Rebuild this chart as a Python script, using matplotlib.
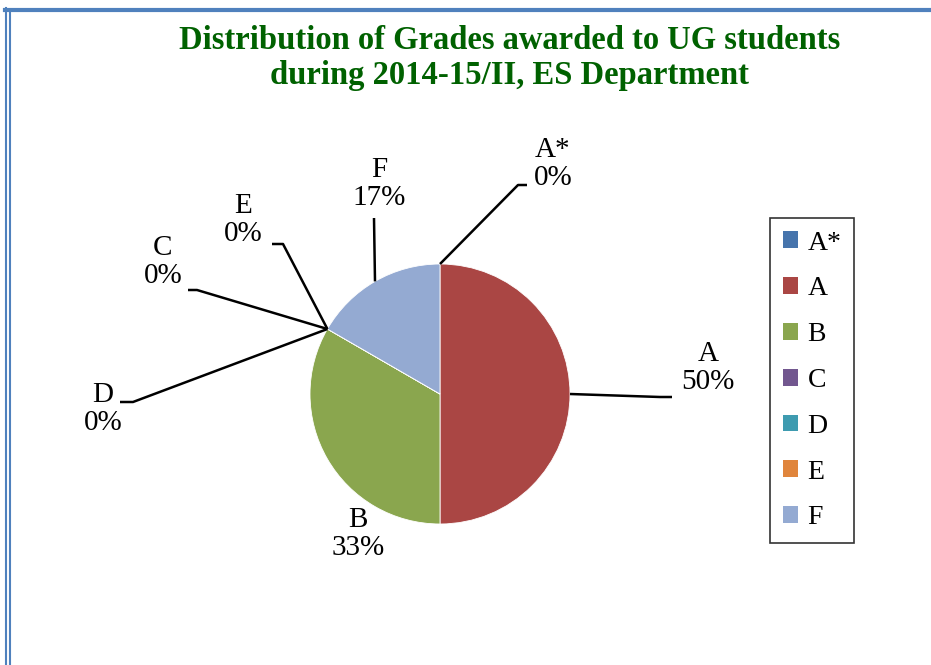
import matplotlib.pyplot as plt
from matplotlib.lines import Line2D
import numpy as np

# grades data
grades = ['A*', 'A', 'B', 'C', 'D', 'E', 'F']
counts = [0, 3, 2, 0, 0, 0, 1]
colors = ['#4674AC', '#AA4644', '#8AA64E', '#72578F', '#3E9BB0', '#E0853C', '#94AAD2']

W, H = 931, 665
plt.rcParams['font.family'] = ['Liberation Serif', 'DejaVu Serif']

fig = plt.figure(figsize=(W / 100, H / 100), dpi=100)
ax = fig.add_axes([0, 0, 1, 1])

cx, cy, r = 440, H - 394, 130
wedges, _ = ax.pie(counts, colors=colors, startangle=90, counterclock=False,
                   center=(cx, cy), radius=r,
                   wedgeprops=dict(edgecolor='white', linewidth=0.6))
ax.set_xlim(0, W)
ax.set_ylim(0, H)
ax.set_aspect('equal')
ax.axis('off')

total = sum(counts)
pct = [round(100 * c / total) for c in counts]

# label text centre, elbow point, elbow end (pixels, y from top); None = no leader
label_pos = {
    'A*': ((553, 164), (518, 185), (527, 185)),
    'A': ((708, 368), (660, 397), (672, 397)),
    'B': ((358, 534), None, None),
    'C': ((163, 262), (197, 290), (188, 290)),
    'D': ((103, 409), (133, 402), (120, 402)),
    'E': ((243, 220), (283, 244), (272, 244)),
    'F': ((379, 184), (374, 218), (374, 218)),
}

for g, w, p in zip(grades, wedges, pct):
    (tx, ty), elbow, end = label_pos[g]
    ax.text(tx, H - ty, f'{g}\n{p}%', ha='center', va='center', fontsize=21,
            linespacing=1.1, color='black')
    if elbow is None:
        continue
    ang = np.deg2rad((w.theta1 + w.theta2) / 2)
    x0, y0 = cx + r * np.cos(ang), cy + r * np.sin(ang)
    ax.plot([x0, elbow[0], end[0]], [y0, H - elbow[1], H - end[1]],
            color='black', lw=1.8, solid_capstyle='butt')

fig.text(510 / W, 1 - 58 / H,
         'Distribution of Grades awarded to UG students\nduring 2014-15/II, ES Department',
         ha='center', va='center', fontsize=23.5, fontweight='bold', color='#006100',
         linespacing=1.15)

leg = fig.legend(wedges, grades, loc='upper left',
                 bbox_to_anchor=(770 / W, 1 - 218 / H), fontsize=20,
                 frameon=True, fancybox=False, edgecolor='black',
                 handlelength=0.55, handleheight=0.55, handletextpad=0.35,
                 labelspacing=0.75, borderpad=0.45, borderaxespad=0)
leg.get_frame().set_linewidth(1.2)
for h in leg.legend_handles:
    h.set_edgecolor('none')

# page frame lines
blue = '#4F81BD'
fig.add_artist(Line2D([5 / W, 1], [1 - 10 / H, 1 - 10 / H], color=blue, lw=3,
                      transform=fig.transFigure))
fig.add_artist(Line2D([6 / W, 6 / W], [0, 1 - 8 / H], color=blue, lw=1.5,
                      transform=fig.transFigure))
fig.add_artist(Line2D([9.5 / W, 9.5 / W], [0, 1 - 11 / H], color=blue, lw=1.5,
                      transform=fig.transFigure))

fig.savefig('out.png', dpi=100)
